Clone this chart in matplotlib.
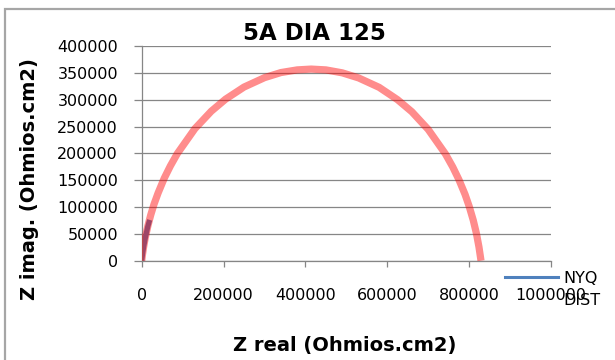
import matplotlib
matplotlib.use('Agg')
import matplotlib.pyplot as plt
from matplotlib.lines import Line2D
from matplotlib.patches import Rectangle

# ---- data ----
dist_x = [0, 2000, 5000, 9000, 15000, 22000, 30000, 40000, 55000, 70000, 87000, 130000,
          170000, 205000, 250000, 300000, 340000, 380000, 414000, 450000, 490000, 530000,
          580000, 625000, 660000, 700000, 742000, 760000, 775000, 790000, 800000, 810000,
          818000, 824000, 829000]
dist_y = [0, 12000, 27000, 44000, 64500, 85000, 105000, 126000, 153500, 176500, 199500,
          246000, 278500, 301000, 323500, 341000, 350500, 355500, 357000, 355500, 350000,
          340500, 323000, 300000, 277500, 244500, 199000, 174500, 151000, 123500, 101500,
          75500, 50000, 25500, 0]
nyq_x = [0, 2000, 5000, 10000, 15000, 19500]
nyq_y = [0, 12000, 27000, 47000, 64000, 76000]

x_ticks = [0, 200000, 400000, 600000, 800000, 1000000]
x_labels = ["0", "200000", "400000", "600000", "800000", "1000000"]
y_ticks = [0, 50000, 100000, 150000, 200000, 250000, 300000, 350000, 400000]
y_labels = ["0", "50000", "100000", "150000", "200000", "250000", "300000", "350000", "400000"]
series_names = ["NYQ", "DIST"]
title = "5A DIA 125"
x_title = "Z real (Ohmios.cm2)"
y_title = "Z imag. (Ohmios.cm2)"

W, H = 615, 360
fig = plt.figure(figsize=(W / 100, H / 100), dpi=100)
fig.patch.set_facecolor('white')

# chart border (only left and top visible in reference)
fig.add_artist(Rectangle((5 / W, -0.1), 1.2, 1 - 9 / H + 0.1, transform=fig.transFigure,
                         fill=False, edgecolor='#A6A6A6', linewidth=1.6))

left, right, top, bottom = 141.7, 551.0, 46.0, 260.7
ax = fig.add_axes([left / W, 1 - bottom / H, (right - left) / W, (bottom - top) / H])

grid_c = '#868686'
ax.plot(nyq_x, nyq_y, color='#4F81BD', linewidth=3.8, solid_capstyle='butt', zorder=2)
ax.plot(dist_x, dist_y, color=(1.0, 0.0, 0.0, 0.45), linewidth=5.2,
        solid_capstyle='butt', solid_joinstyle='round', zorder=3)

ax.set_xlim(0, 1000000)
ax.set_ylim(0, 400000)
ax.set_xticks(x_ticks, x_labels)
ax.set_yticks(y_ticks, y_labels)

ax.yaxis.grid(True, color=grid_c, linewidth=0.9)
ax.xaxis.grid(False)
ax.set_axisbelow(True)
for s in ['top', 'right']:
    ax.spines[s].set_visible(False)
for s in ['left', 'bottom']:
    ax.spines[s].set_color(grid_c)
    ax.spines[s].set_linewidth(0.9)

ax.tick_params(axis='y', direction='out', length=5.5, width=0.9, color=grid_c, pad=11.5,
               labelsize=11.5)
ax.tick_params(axis='x', direction='out', length=4.5, width=0.9, color=grid_c, pad=15,
               labelsize=11.5)
for lab in ax.get_xticklabels() + ax.get_yticklabels():
    lab.set_family('DejaVu Sans')

fig.text(314 / W, 1 - 33 / H, title, ha='center', va='center',
         fontsize=16.5, fontweight='bold', family='DejaVu Sans')
fig.text(345 / W, 1 - 346 / H, x_title, ha='center', va='center',
         fontsize=14, fontweight='bold', family='DejaVu Sans')
fig.text(30 / W, 1 - 179 / H, y_title, ha='center', va='center', rotation=90,
         fontsize=14, fontweight='bold', family='DejaVu Sans')

handles = [Line2D([], [], color='#4F81BD', linewidth=2.2),
           Line2D([], [], color='none')]
leg = ax.legend(handles, series_names, loc='upper left',
                bbox_to_anchor=(505 / W, 1 - 271 / H), bbox_transform=fig.transFigure,
                frameon=False, borderpad=0, borderaxespad=0, handlelength=3.3,
                handletextpad=0.35, labelspacing=0.45,
                prop=dict(family='DejaVu Sans', size=11.5))

fig.savefig('out.png', dpi=100)
